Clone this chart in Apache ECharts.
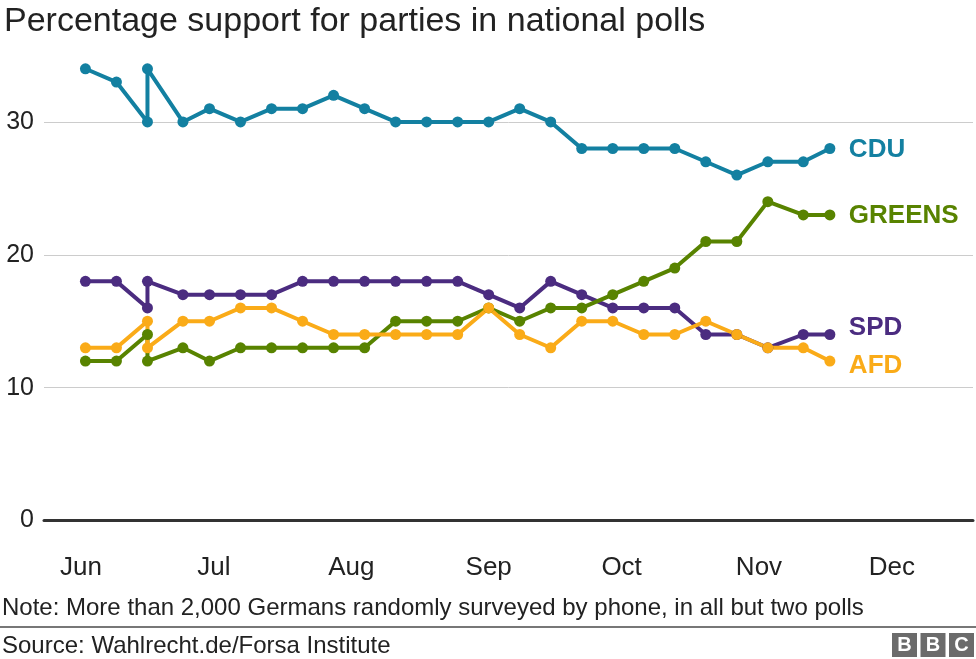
<!DOCTYPE html>
<html>
<head>
<meta charset="utf-8">
<script src="https://cdn.jsdelivr.net/npm/echarts@6/dist/echarts.min.js"></script>
<style>
html,body{margin:0;padding:0;background:#fff;}
#chart{width:976px;height:659px;}
</style>
</head>
<body>
<div id="chart"></div>
<script>
// ---- data ----
const pollDates = ['2018-06-02','2018-06-09','2018-06-16','2018-06-16','2018-06-24','2018-06-30',
  '2018-07-07','2018-07-14','2018-07-21','2018-07-28','2018-08-04','2018-08-11','2018-08-18',
  '2018-08-25','2018-09-01','2018-09-08','2018-09-15','2018-09-22','2018-09-29','2018-10-06',
  '2018-10-13','2018-10-20','2018-10-27','2018-11-03','2018-11-11','2018-11-17'];
const cdu    = [34,33,30,34,30,31,30,31,31,32,31,30,30,30,30,31,30,28,28,28,28,27,26,27,27,28];
const spd    = [18,18,16,18,17,17,17,17,18,18,18,18,18,18,17,16,18,17,16,16,16,14,14,13,14,14];
const greens = [12,12,14,12,13,12,13,13,13,13,13,15,15,15,16,15,16,16,17,18,19,21,21,24,23,23];
const afd    = [13,13,15,13,15,15,16,16,15,14,14,14,14,14,16,14,13,15,15,14,14,15,14,13,13,12];
const seriesNames = ['CDU','SPD','GREENS','AFD'];
const monthTicks = ['2018-06-01','2018-07-01','2018-08-01','2018-09-01','2018-10-01','2018-11-01','2018-12-01'];
const monthLabels = ['Jun','Jul','Aug','Sep','Oct','Nov','Dec'];
const yTicks = [0,10,20,30];

const titleText = 'Percentage support for parties in national polls';
const noteText = 'Note: More than 2,000 Germans randomly surveyed by phone, in all but two polls';
const sourceText = 'Source: Wahlrecht.de/Forsa Institute';

// ---- helpers ----
const DAY = 86400000;
const ts = s => Date.parse(s + 'T00:00:00Z');
const FONT = '"Liberation Sans", Arial, Helvetica, sans-serif';
const pairs = vals => pollDates.map((d, i) => [ts(d), vals[i]]);
const monthTs = monthTicks.map(ts);

const colors = { CDU: '#1380A1', SPD: '#4B2C80', GREENS: '#588300', AFD: '#FAAB18' };
const valuesByName = { CDU: cdu, SPD: spd, GREENS: greens, AFD: afd };
const labelOffsets = { CDU: [0, 1], SPD: [0, -7], GREENS: [0, 1], AFD: [0, 5] };

const chart = echarts.init(document.getElementById('chart'), null, { renderer: 'canvas' });

const series = seriesNames.map(name => ({
  name: name,
  type: 'line',
  data: pairs(valuesByName[name]),
  symbol: 'circle',
  symbolSize: 11,
  showSymbol: true,
  lineStyle: { color: colors[name], width: 4 },
  itemStyle: { color: colors[name] },
  emphasis: { disabled: true },
  endLabel: {
    show: true,
    formatter: '{a}',
    color: colors[name],
    fontFamily: FONT,
    fontWeight: 'bold',
    fontSize: 26,
    distance: 19,
    offset: labelOffsets[name]
  }
}));

const logoLetters = ['B','B','C'];
const logoGraphics = [];
logoLetters.forEach((ch, i) => {
  logoGraphics.push({
    type: 'rect', shape: { x: 892 + i * 28.5, y: 633, width: 25, height: 24 },
    style: { fill: '#6b6b6b' }
  });
  logoGraphics.push({
    type: 'text', x: 892 + i * 28.5 + 12.5, y: 645.5,
    style: { text: ch, fill: '#fff', font: 'bold 20px ' + FONT, align: 'center', verticalAlign: 'middle' }
  });
});

chart.setOption({
  animation: false,
  backgroundColor: '#ffffff',
  grid: { left: 44, right: 3, top: 55.5, bottom: 138.5, containLabel: false },
  xAxis: {
    type: 'value',
    min: ts(monthTicks[0]) - 8.35 * DAY,
    max: ts(monthTicks[0]) + 201.3 * DAY,
    axisLine: { show: true, lineStyle: { color: '#333333', width: 3 } },
    axisTick: { show: false },
    splitLine: { show: false },
    axisLabel: {
      customValues: monthTs,
      formatter: v => { const i = monthTs.indexOf(v); return i >= 0 ? monthLabels[i] : ''; },
      color: '#222222',
      fontFamily: FONT,
      fontSize: 26,
      margin: 34
    }
  },
  yAxis: {
    type: 'value',
    min: 0,
    max: 35,
    interval: 10,
    axisLine: { show: false },
    axisTick: { show: false },
    splitLine: { show: true, showMaxLine: false, lineStyle: { color: '#cccccc', width: 1 } },
    axisLabel: {
      customValues: yTicks,
      color: '#222222',
      fontFamily: FONT,
      fontSize: 25,
      margin: 10
    }
  },
  series: series,
  graphic: [
    { type: 'text', x: 4, y: 22,
      style: { text: titleText, fill: '#222222', font: '34px ' + FONT, verticalAlign: 'middle' } },
    { type: 'text', x: 2, y: 608,
      style: { text: noteText, fill: '#222222', font: '24px ' + FONT, verticalAlign: 'middle' } },
    { type: 'rect', shape: { x: 0, y: 626, width: 976, height: 2 }, style: { fill: '#777777' } },
    { type: 'text', x: 2, y: 646,
      style: { text: sourceText, fill: '#222222', font: '24px ' + FONT, verticalAlign: 'middle' } }
  ].concat(logoGraphics)
});
</script>
</body>
</html>
